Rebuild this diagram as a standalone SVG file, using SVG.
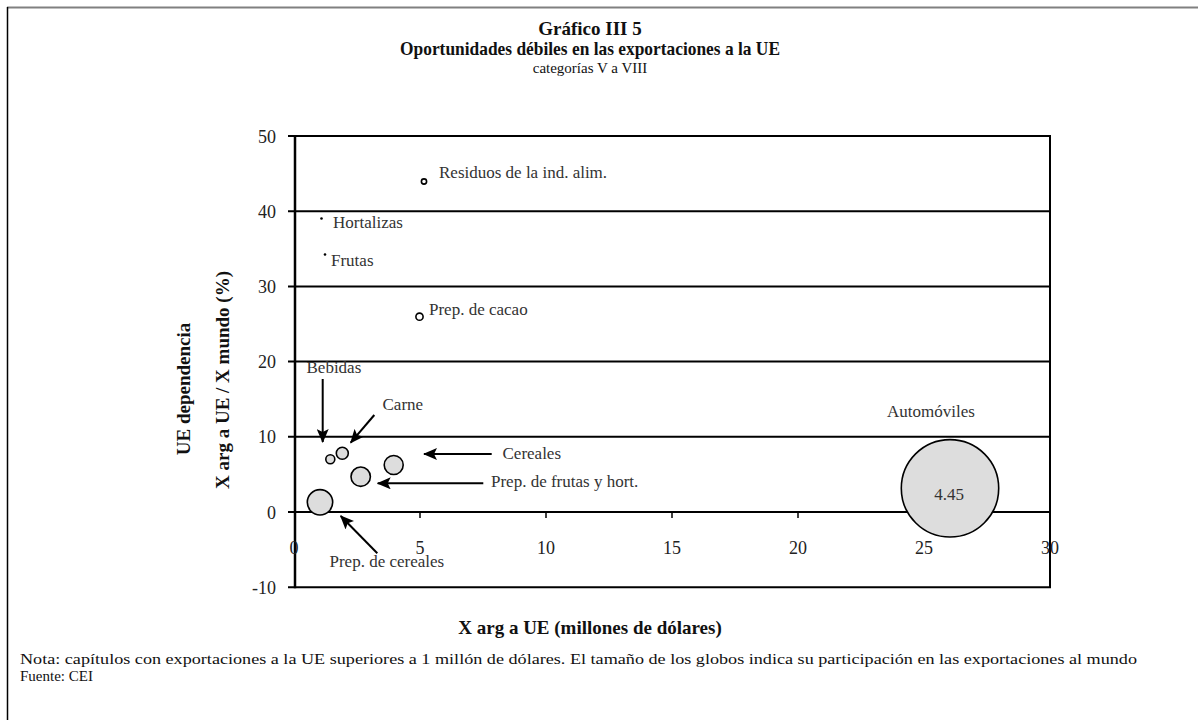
<svg xmlns="http://www.w3.org/2000/svg" width="1198" height="720" viewBox="0 0 1198 720">
<style>
.t{font-family:"Liberation Serif","Times New Roman",serif;fill:#111}
.tb{font-family:"Liberation Serif","Times New Roman",serif;font-weight:bold;fill:#111}
.lab{font-family:"Liberation Serif","Times New Roman",serif;font-size:17px;fill:#333}
.tick{font-family:"Liberation Serif","Times New Roman",serif;font-size:18px;fill:#222}
.grid{stroke:#000;stroke-width:2;fill:none}
.bub{fill:#dddddd;stroke:#000;stroke-width:1.6}
.ring{fill:#fff;stroke:#000;stroke-width:1.6}
.arr{stroke:#000;stroke-width:2;fill:none;marker-end:url(#ah)}
</style>
<defs>
<marker id="ah" markerUnits="userSpaceOnUse" markerWidth="14" markerHeight="12" refX="13" refY="6" orient="auto">
<path d="M0,0 L14,6 L0,12 L3,6 z" fill="#000"/>
</marker>
</defs>
<rect x="0" y="0" width="1198" height="720" fill="#fff"/>
<g id="frame">
<line x1="7" y1="7.5" x2="1198" y2="7.5" stroke="#808080" stroke-width="2"/>
<line x1="7.5" y1="7" x2="7.5" y2="720" stroke="#000" stroke-width="1.5"/>
</g>
<g id="titles">
<text class="tb" x="590" y="35" font-size="19" text-anchor="middle">Gráfico III 5</text>
<text class="tb" x="590" y="55" font-size="19" text-anchor="middle" textLength="380" lengthAdjust="spacingAndGlyphs">Oportunidades débiles en las exportaciones a la UE</text>
<text class="t" x="590" y="73" font-size="15" text-anchor="middle">categorías V a VIII</text>
</g>
<g id="plot">
<line class="grid" x1="288" y1="136" x2="1051" y2="136"/>
<line class="grid" x1="288" y1="211.2" x2="1051" y2="211.2"/>
<line class="grid" x1="288" y1="286.4" x2="1051" y2="286.4"/>
<line class="grid" x1="288" y1="361.6" x2="1051" y2="361.6"/>
<line class="grid" x1="288" y1="436.8" x2="1051" y2="436.8"/>
<line class="grid" x1="288" y1="512" x2="1051" y2="512"/>
<line class="grid" x1="288" y1="587.2" x2="1051" y2="587.2"/>
<line class="grid" x1="1050" y1="135" x2="1050" y2="588"/>
<line x1="295" y1="135" x2="295" y2="588.2" stroke="#000" stroke-width="2.5"/>
<g stroke="#000" stroke-width="1.5">
<line x1="420" y1="512" x2="420" y2="518"/>
<line x1="546" y1="512" x2="546" y2="518"/>
<line x1="672" y1="512" x2="672" y2="518"/>
<line x1="798" y1="512" x2="798" y2="518"/>
<line x1="924" y1="512" x2="924" y2="518"/>
</g>
</g>
<g id="yticks" text-anchor="end">
<text class="tick" x="276" y="142.5">50</text>
<text class="tick" x="276" y="217.7">40</text>
<text class="tick" x="276" y="292.9">30</text>
<text class="tick" x="276" y="368.1">20</text>
<text class="tick" x="276" y="443.3">10</text>
<text class="tick" x="276" y="518.5">0</text>
<text class="tick" x="276" y="593.7">-10</text>
</g>
<g id="xticks" text-anchor="middle">
<text class="tick" x="294" y="554">0</text>
<text class="tick" x="420" y="554">5</text>
<text class="tick" x="546" y="554">10</text>
<text class="tick" x="672" y="554">15</text>
<text class="tick" x="798" y="554">20</text>
<text class="tick" x="924" y="554">25</text>
<text class="tick" x="1050" y="554">30</text>
</g>
<g id="axis-titles">
<text class="tb" font-size="19" text-anchor="middle" transform="translate(190,389) rotate(-90)">UE dependencia</text>
<text class="tb" font-size="19" text-anchor="middle" transform="translate(229,380) rotate(-90)">X arg a UE / X mundo (%)</text>
<text class="tb" font-size="19" x="590" y="634" text-anchor="middle">X arg a UE (millones de dólares)</text>
</g>
<g id="node-residuos">
<circle class="ring" cx="424" cy="181.5" r="2.6"/>
<text class="lab" x="439" y="178">Residuos de la ind. alim.</text>
</g>
<g id="node-hortalizas">
<circle cx="321.5" cy="218.5" r="1.3" fill="#000"/>
<text class="lab" x="333" y="228">Hortalizas</text>
</g>
<g id="node-frutas">
<circle cx="325" cy="254.5" r="1.3" fill="#000"/>
<text class="lab" x="331" y="266">Frutas</text>
</g>
<g id="node-cacao">
<circle class="ring" cx="419.5" cy="316.7" r="3.6"/>
<text class="lab" x="429" y="315">Prep. de cacao</text>
</g>
<g id="node-bebidas">
<circle class="bub" cx="330.3" cy="459.3" r="4.5"/>
<text class="lab" x="306.5" y="373">Bebidas</text>
</g>
<g id="node-carne">
<circle class="bub" cx="342.3" cy="453.3" r="6"/>
<text class="lab" x="382.5" y="410">Carne</text>
</g>
<g id="node-cereales">
<circle class="bub" cx="393.7" cy="465" r="9.5"/>
<text class="lab" x="502.5" y="459">Cereales</text>
</g>
<g id="node-prep-frutas">
<circle class="bub" cx="360.7" cy="476.7" r="9.7"/>
<text class="lab" x="491" y="487">Prep. de frutas y hort.</text>
</g>
<g id="node-prep-cereales">
<circle class="bub" cx="320" cy="502.3" r="12.7"/>
<text class="lab" x="329.5" y="567">Prep. de cereales</text>
</g>
<g id="node-automoviles">
<circle class="bub" cx="950" cy="488.3" r="48.7"/>
<text class="lab" x="949" y="500" text-anchor="middle" fill="#222" font-size="18">4.45</text>
<text class="lab" x="931" y="417" text-anchor="middle">Automóviles</text>
</g>
<g id="connectors">
<line class="arr" x1="322.7" y1="379" x2="322.7" y2="442"/>
<line class="arr" x1="374.3" y1="415" x2="350.7" y2="442.7"/>
<line class="arr" x1="491.7" y1="454" x2="424" y2="454"/>
<line class="arr" x1="483.3" y1="483.3" x2="377.7" y2="483.3"/>
<line class="arr" x1="377.3" y1="553.3" x2="340.7" y2="516"/>
</g>
<g id="notes">
<text class="t" x="20" y="664" font-size="15" textLength="1117" lengthAdjust="spacingAndGlyphs">Nota: capítulos con exportaciones a la UE superiores a 1 millón de dólares. El tamaño de los globos indica su participación en las exportaciones al mundo</text>
<text class="t" x="20" y="681" font-size="15">Fuente: CEI</text>
</g>
</svg>
